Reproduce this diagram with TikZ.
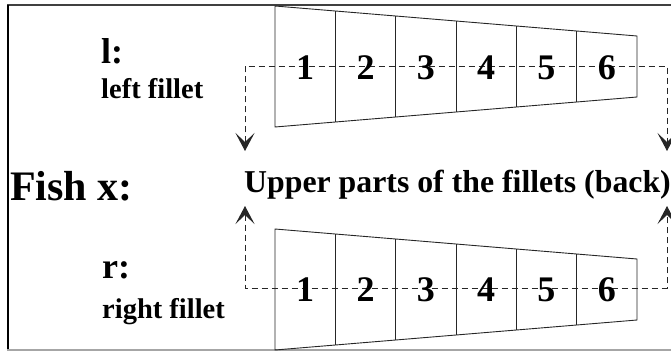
\documentclass[tikz,border=0pt]{standalone}
\usepackage{fontspec}
\setmainfont{Liberation Serif}
\usetikzlibrary{arrows.meta,calc}
\begin{document}
\begin{tikzpicture}[x=1pt,y=-1pt,
  lbl/.style={inner sep=0pt, anchor=base west},
  num/.style={inner sep=0pt, anchor=base, font=\fontsize{36}{36}\selectfont\bfseries},
  filletbox/.style={draw=black!85, line width=0.9pt, line join=miter},
  cellline/.style={draw=black!85, line width=0.9pt},
  link/.style={draw=black!85, line width=0.9pt, dash pattern=on 6pt off 4pt,
    {Stealth[length=18pt,width=19pt,inset=9pt]}-{Stealth[length=18pt,width=19pt,inset=9pt]}}]
\useasboundingbox (0,0) rectangle (671,351);
% frame
\draw[black!75, line width=1.6pt] (7,5) -- (671,5);
\draw[black, line width=1.2pt] (8,4.5) -- (8,350);
\draw[black!35, line width=1.2pt] (7,350) -- (671,350);

% upper fillet
\coordinate (UTL) at (275,6);
\coordinate (UTR) at (637,36);
\coordinate (UBR) at (637,97);
\coordinate (UBL) at (275,127);
\draw[filletbox] (UTL) -- (UTR) -- (UBR) -- (UBL) -- cycle;
\foreach \k in {1,...,5}{
  \draw[cellline] ($(UTL)!\k/6!(UTR)$) -- ($(UBL)!\k/6!(UBR)$);
}
% lower fillet
\coordinate (LTL) at (275,229);
\coordinate (LTR) at (637,259);
\coordinate (LBR) at (637,320);
\coordinate (LBL) at (275,350);
\draw[filletbox] (LTL) -- (LTR) -- (LBR) -- (LBL) -- cycle;
\foreach \k in {1,...,5}{
  \draw[cellline] ($(LTL)!\k/6!(LTR)$) -- ($(LBL)!\k/6!(LBR)$);
}

% dashed connectors
\coordinate (ua) at (245,151);
\coordinate (ub) at (667,151);
\coordinate (uca) at (245,66);
\coordinate (ucb) at (667,66);
\draw[link] (ua) -- (uca) -- (ucb) -- (ub);
\coordinate (la) at (245,206);
\coordinate (lb) at (667,206);
\coordinate (lca) at (245,288);
\coordinate (lcb) at (667,288);
\draw[link] (la) -- (lca) -- (lcb) -- (lb);

% numbers
\foreach \k in {1,...,6}{
  \node[num] (u\k) at ({275+(\k-0.5)*60.33},79) {\k};
  \node[num] (l\k) at ({275+(\k-0.5)*60.33},301) {\k};
}

% labels
\node[lbl, font=\fontsize{42}{42}\selectfont\bfseries] (fish) at (10,200) {Fish x:};
\node[lbl, font=\fontsize{31.8}{32}\selectfont\bfseries] (upper) at (244,192) {Upper parts of the fillets (back)};
\node[lbl, font=\fontsize{36}{36}\selectfont\bfseries] (lhead) at (101,63) {l:};
\node[lbl, font=\fontsize{28.5}{29}\selectfont\bfseries] (ltext) at (101,98) {left fillet};
\node[lbl, font=\fontsize{36}{36}\selectfont\bfseries] (rhead) at (102,278) {r:};
\node[lbl, font=\fontsize{28.5}{29}\selectfont\bfseries] (rtext) at (102,318) {right fillet};
\end{tikzpicture}
\end{document}
